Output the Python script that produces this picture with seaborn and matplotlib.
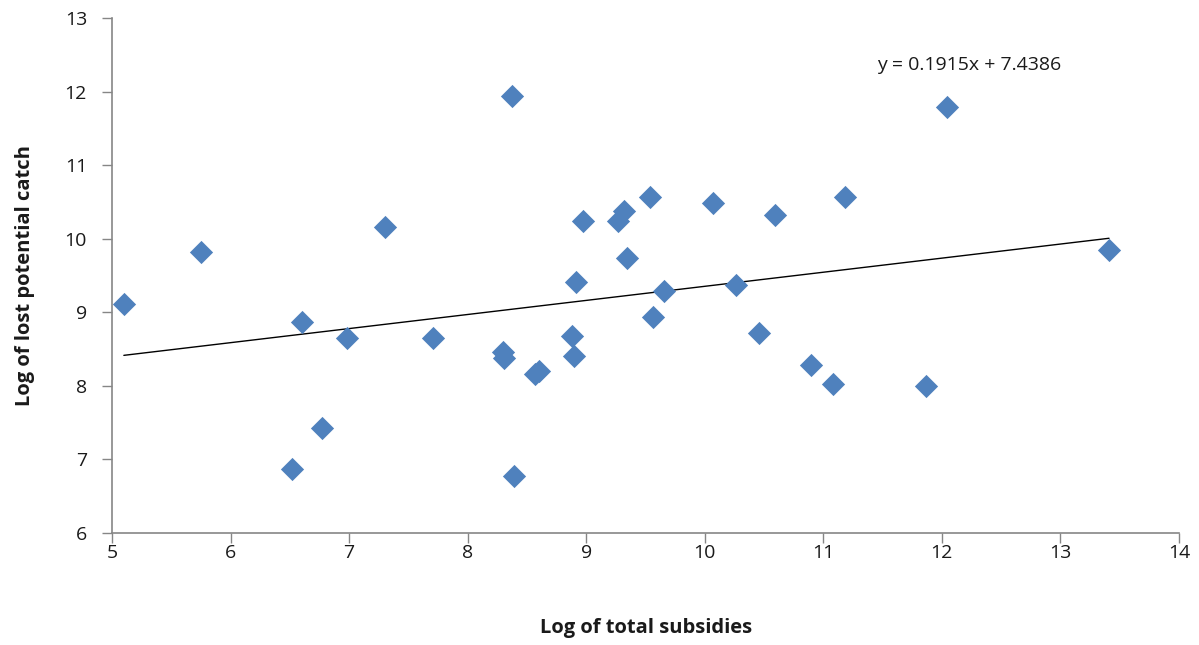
import matplotlib
matplotlib.use("Agg")
import matplotlib.pyplot as plt
import seaborn as sns
import numpy as np
import pandas as pd

# Data
log_subsidies = [5.10, 5.75, 6.52, 6.60, 6.77, 6.98, 7.30, 7.71, 8.30, 8.31,
                 8.37, 8.39, 8.57, 8.60, 8.88, 8.90, 8.91, 8.97, 9.27, 9.32,
                 9.34, 9.54, 9.56, 9.66, 10.07, 10.26, 10.46, 10.59, 10.90, 11.08,
                 11.18, 11.87, 12.04, 13.41]
log_lost_catch = [9.11, 9.82, 6.87, 8.87, 7.43, 8.65, 10.16, 8.65, 8.46, 8.38,
                  11.94, 6.77, 8.16, 8.20, 8.68, 8.41, 9.41, 10.24, 10.24, 10.38,
                  9.74, 10.57, 8.94, 9.29, 10.49, 9.37, 8.72, 10.32, 8.28, 8.03,
                  10.57, 8.00, 11.79, 9.85]
trend_slope = 0.1915
trend_intercept = 7.4386
equation_label = "y = 0.1915x + 7.4386"
x_ticks = [5, 6, 7, 8, 9, 10, 11, 12, 13, 14]
y_ticks = [6, 7, 8, 9, 10, 11, 12, 13]

df = pd.DataFrame({"x": log_subsidies, "y": log_lost_catch})

sns.set_theme(style="white")
plt.rcParams['font.family'] = ['Open Sans', 'DejaVu Sans']

fig = plt.figure(figsize=(11.99, 6.45), dpi=100)
ax = fig.add_axes([0.0934, 0.1736, 0.8899, 0.7984])

sns.scatterplot(data=df, x="x", y="y", marker="D", s=140, color="#4F81BD",
                edgecolor="#4F81BD", linewidth=0, ax=ax, zorder=3)

xs = np.array([min(log_subsidies), max(log_subsidies)])
sns.lineplot(x=xs, y=trend_slope * xs + trend_intercept, color="black",
             linewidth=1.0, ax=ax, zorder=2)

ax.text(11.45, 12.36, equation_label, fontsize=14, color="#1a1a1a",
        va="center", ha="left")

ax.set_xlim(5, 14)
ax.set_ylim(6, 13)
ax.set_xticks(x_ticks)
ax.set_yticks(y_ticks)
ax.tick_params(axis="both", which="major", direction="out", length=7,
               width=1, color="#868686", labelsize=14, labelcolor="#1a1a1a",
               bottom=True, left=True)
ax.tick_params(axis="x", pad=1)
ax.tick_params(axis="y", pad=11)

for side in ["top", "right"]:
    ax.spines[side].set_visible(False)
for side in ["left", "bottom"]:
    ax.spines[side].set_color("#868686")
    ax.spines[side].set_linewidth(1.2)

ax.set_xlabel("Log of total subsidies", fontsize=14.5, fontweight="bold",
              color="#1a1a1a")
ax.set_ylabel("Log of lost potential catch", fontsize=14.5, fontweight="bold",
              color="#1a1a1a")
ax.xaxis.set_label_coords(0.501, -0.1845)
ax.xaxis.label.set_va("center")
ax.yaxis.set_label_coords(-0.0815, 0.50)
ax.yaxis.label.set_va("center")
ax.grid(False)

fig.savefig("out.png", dpi=100)
